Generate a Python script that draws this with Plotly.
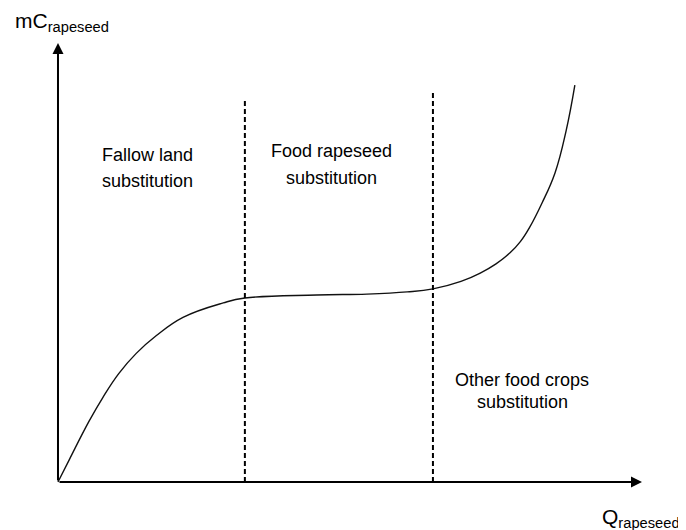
import plotly.graph_objects as go

# curve (quantity vs marginal cost, arbitrary units)
curve_q = [0, 0.19, 0.53, 0.77, 1.04, 1.34, 1.68, 2.14, 2.83, 3.20, 4.43, 5.29,
           5.98, 6.42, 6.90, 7.23, 7.50, 7.74, 7.92, 8.08, 8.29, 8.51, 8.70, 8.85]
curve_mc = [0, 0.50, 1.38, 1.93, 2.47, 2.93, 3.33, 3.75, 4.08, 4.19, 4.26, 4.28,
            4.33, 4.40, 4.57, 4.76, 4.97, 5.22, 5.48, 5.81, 6.36, 7.04, 8.0, 9.04]

# regime boundaries
boundary_q = [3.20, 6.42]
boundary_top = [8.7, 8.9]

region_lines = [["Fallow land", "substitution"],
                ["Food rapeseed", "substitution"],
                ["Other food crops", "substitution"]]
region_q = [1.54, 4.69, 7.95]
region_mc = [[7.45, 6.86], [7.54, 6.93], [2.33, 1.82]]

x_label = "Q<sub>rapeseed</sub>"
y_label = "mC<sub>rapeseed</sub>"

font = "Liberation Sans, Arial, sans-serif"

fig = go.Figure()
fig.add_trace(go.Scatter(x=curve_q, y=curve_mc, mode="lines",
                         line=dict(color="#111111", width=1.4, shape="spline", smoothing=1.2),
                         hoverinfo="skip", showlegend=False))

for q, top in zip(boundary_q, boundary_top):
    fig.add_trace(go.Scatter(x=[q, q], y=[0, top], mode="lines",
                             line=dict(color="black", width=2, dash="5px,3px"),
                             hoverinfo="skip", showlegend=False))

# axes drawn as arrows
fig.add_annotation(x=10, y=0, ax=0, ay=0, xref="x", yref="y", axref="x", ayref="y",
                   text="", showarrow=True, arrowhead=2, arrowsize=1.1, arrowwidth=2,
                   arrowcolor="black", standoff=0, startstandoff=0)
fig.add_annotation(x=0, y=10, ax=0, ay=0, xref="x", yref="y", axref="x", ayref="y",
                   text="", showarrow=True, arrowhead=2, arrowsize=1.1, arrowwidth=2,
                   arrowcolor="black", standoff=0, startstandoff=0)

for lines, q, ys in zip(region_lines, region_q, region_mc):
    for txt, y in zip(lines, ys):
        fig.add_annotation(x=q, y=y, text=txt, showarrow=False,
                           font=dict(family=font, size=18, color="black"))

fig.add_annotation(x=-0.77, y=10.47, text=y_label, showarrow=False, xanchor="left",
                   font=dict(family=font, size=21, color="black"))
fig.add_annotation(x=9.28, y=-0.82, text=x_label, showarrow=False, xanchor="left",
                   font=dict(family=font, size=21, color="black"))

# page body keeps an 8px margin, so the figure is 8px smaller and the ranges shifted
fig.update_xaxes(range=[-0.856, 10.753], visible=False)
fig.update_yaxes(range=[-1.093, 10.797], visible=False)
fig.update_layout(width=678, height=522, margin=dict(l=0, r=0, t=0, b=0),
                  plot_bgcolor="white", paper_bgcolor="white")

fig.write_html("out.html")
